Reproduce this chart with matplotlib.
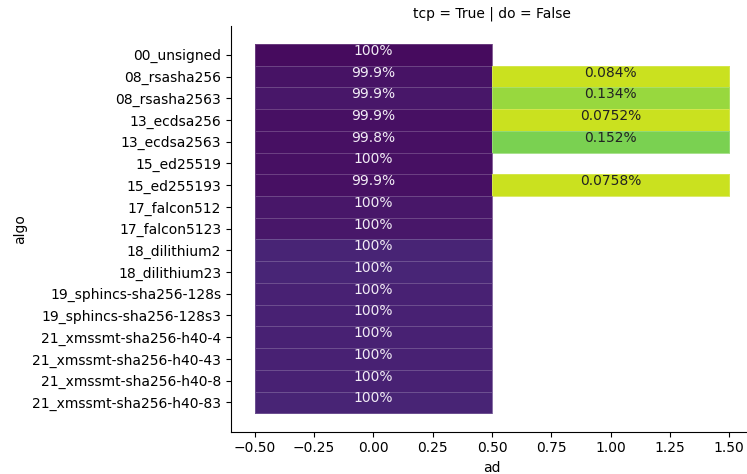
import numpy as np
import matplotlib
matplotlib.use("Agg")
import matplotlib.pyplot as plt

# Resolver algorithms (rows) and the two "ad" outcomes (columns)
algos = [
    "00_unsigned", "08_rsasha256", "08_rsasha2563", "13_ecdsa256",
    "13_ecdsa2563", "15_ed25519", "15_ed255193", "17_falcon512",
    "17_falcon5123", "18_dilithium2", "18_dilithium23",
    "19_sphincs-sha256-128s", "19_sphincs-sha256-128s3",
    "21_xmssmt-sha256-h40-4", "21_xmssmt-sha256-h40-43",
    "21_xmssmt-sha256-h40-8", "21_xmssmt-sha256-h40-83",
]
ad_values = [0, 1]

# Share of responses per algo (percent); NaN = no responses in that column
pct_ad0 = [100, 99.916, 99.866, 99.9248, 99.848, 100, 99.9242, 100, 100,
           100, 100, 100, 100, 100, 100, 100, 100]
pct_ad1 = [np.nan, 0.084, 0.134, 0.0752, 0.152, np.nan, 0.0758, np.nan, np.nan,
           np.nan, np.nan, np.nan, np.nan, np.nan, np.nan, np.nan, np.nan]

# Colour intensity of each cell (viridis scale, 0..1)
shade_ad0 = [0.03, 0.05, 0.06, 0.04, 0.04, 0.04, 0.04, 0.06, 0.06,
             0.10, 0.105, 0.09, 0.09, 0.09, 0.09, 0.09, 0.10]
shade_ad1 = [np.nan, 0.92, 0.845, 0.92, 0.80, np.nan, 0.92, np.nan, np.nan,
             np.nan, np.nan, np.nan, np.nan, np.nan, np.nan, np.nan, np.nan]

pct = np.column_stack([pct_ad0, pct_ad1])
shade = np.ma.masked_invalid(np.column_stack([shade_ad0, shade_ad1]))

fig = plt.figure(figsize=(7.47, 4.74), dpi=100)
ax = fig.add_axes([231 / 747, 42.3 / 474, 522 / 747, 406.2 / 474])

nrows = len(algos)
x_edges = np.arange(len(ad_values) + 1) - 0.5
y_edges = np.arange(nrows + 1) - 0.5
ax.pcolormesh(x_edges, y_edges, shade, cmap="viridis", vmin=0, vmax=1,
              edgecolors=(1, 1, 1, 0.2), linewidth=0.6)

for i in range(nrows):
    for j, ad in enumerate(ad_values):
        v = pct[i, j]
        if np.isnan(v):
            continue
        color = "#f2ecf6" if shade[i, j] < 0.5 else "#222222"
        ax.text(ad, i, f"{v:.3g}%", ha="center", va="baseline",
                fontsize=10, color=color)

ax.set_xlim(-0.6, 1.6)
ax.set_ylim(nrows - 0.5 + 0.85, -0.5 - 0.85)
ax.set_xticks(np.arange(-0.5, 1.51, 0.25))
ax.set_xticklabels([f"{t:.2f}".replace("-", "\u2212") for t in np.arange(-0.5, 1.51, 0.25)])
ax.set_yticks(range(nrows))
ax.set_yticklabels(algos)
ax.tick_params(labelsize=10)
ax.set_xlabel("ad", fontsize=10)
ax.set_ylabel("algo", fontsize=10)
ax.set_title("tcp = True | do = False", fontsize=10)
ax.spines["top"].set_visible(False)
ax.spines["right"].set_visible(False)

fig.savefig("out.png", dpi=100)
